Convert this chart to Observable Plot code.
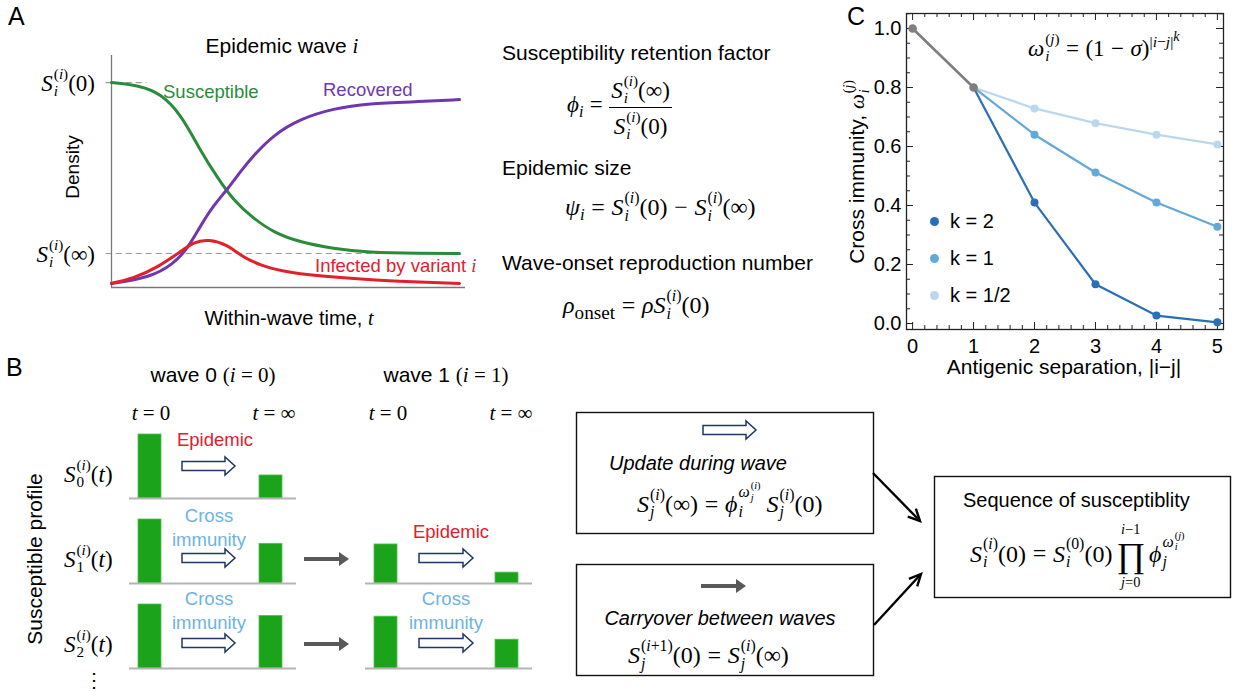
<!DOCTYPE html>
<html><head><meta charset="utf-8">
<script src="https://cdn.jsdelivr.net/npm/d3@7"></script>
<script src="https://cdn.jsdelivr.net/npm/@observablehq/plot@0.6"></script>
<style>
body{margin:0;background:#fff;}
#root{position:relative;width:1244px;height:692px;overflow:hidden;font-family:"Liberation Sans",Arial,sans-serif;color:#000;background:#fff;}
.abs{position:absolute;white-space:nowrap;line-height:1;}
.m{font-family:"Liberation Serif","DejaVu Serif",serif;}
.ss{display:inline-block;vertical-align:-0.36em;font-size:0.66em;line-height:1.12;text-align:left;margin-left:1px;}
.ss>span{display:block;}
.frac{display:inline-block;vertical-align:middle;text-align:center;}
.frac>span{display:block;line-height:1.25;}
.frac>.num{border-bottom:1.4px solid #000;padding:0 2px 1px;}
.prod{display:inline-block;vertical-align:middle;text-align:center;line-height:1;margin:0 4px;}
.prod>span{display:block;}
.prod .lim{font-size:0.6em;line-height:1.15;}
.prod .big{font-size:1.45em;line-height:1.05;}
.sub2{font-size:0.7em;vertical-align:-0.3em;}
.op{margin:0 0.28em;}
.pl{position:absolute;}
</style>
</head><body><div id="root"></div>
<script>
// ---------- Data: panel A ----------
const timeS = [0, 0.82, 1.38, 1.95, 2.51, 2.99, 3.45, 4.01, 4.58, 5.34, 6.27, 7.23, 8.73, 9.83];
const susceptible = [1.0, 0.985, 0.946, 0.849, 0.668, 0.537, 0.424, 0.337, 0.268, 0.22, 0.19, 0.171, 0.166, 0.166];
const timeR = [0, 1.10, 1.75, 2.15, 2.51, 2.88, 3.28, 3.64, 4.01, 4.58, 5.34, 6.27, 7.23, 8.73, 9.83];
const recovered = [0.02, 0.049, 0.115, 0.19, 0.30, 0.40, 0.48, 0.565, 0.644, 0.745, 0.824, 0.873, 0.898, 0.907, 0.917];
const timeI = [0, 0.62, 1.30, 1.95, 2.32, 2.74, 3.28, 3.64, 4.21, 4.97, 6.27, 8.73, 9.83];
const infected = [0.02, 0.044, 0.098, 0.175, 0.222, 0.236, 0.208, 0.156, 0.107, 0.073, 0.049, 0.024, 0.02];
const S0 = 1.0, Sinf = 0.166;
const refStart = -0.15;

// ---------- Data: panel B (bar heights, relative) ----------
const waves = ["wave 0", "wave 1"];
const profileRows = ["S0", "S1", "S2"];
const timePoints = ["t0", "tinf"];
const wave0Start = [1.0, 1.0, 1.0];
const wave0End = [0.36, 0.62, 0.82];
const wave1Start = [null, 0.61, 0.81];
const wave1End = [null, 0.17, 0.45];

// ---------- Data: panel C ----------
const separation = [0, 1, 2, 3, 4, 5];
const kLabels = ["k = 2", "k = 1", "k = 1/2"];
const k2 = [1.0, 0.80, 0.41, 0.133, 0.027, 0.004];
const k1 = [1.0, 0.80, 0.64, 0.512, 0.41, 0.328];
const kHalf = [1.0, 0.80, 0.729, 0.679, 0.64, 0.607];
const kColors = ["#2a6fb5", "#64a8d9", "#bcd7ec"];
const yMajor = [0, 0.2, 0.4, 0.6, 0.8, 1.0];

const root = document.getElementById("root");
const font = "Liberation Sans, Arial, sans-serif";

function addPlot(svg, left, top) {
  svg.classList.add("pl");
  svg.style.left = left + "px"; svg.style.top = top + "px";
  svg.style.background = "transparent"; svg.style.overflow = "visible";
  root.appendChild(svg);
}
function place(html, x, y, o = {}) {
  const d = document.createElement("div");
  d.className = "abs " + (o.cls || "");
  d.innerHTML = html;
  d.style.left = x + "px"; d.style.top = y + "px";
  if (o.size) d.style.fontSize = o.size + "px";
  if (o.color) d.style.color = o.color;
  if (o.lh) { d.style.lineHeight = o.lh + "px"; d.style.whiteSpace = "normal"; d.style.textAlign = "center"; }
  const tx = o.anchor === "middle" ? "-50%" : o.anchor === "end" ? "-100%" : "0";
  d.style.transform = `translate(${tx},-50%)` + (o.rotate ? ` rotate(${o.rotate}deg)` : "");
  root.appendChild(d);
  return d;
}
// math helpers
const it = s => `<i>${s}</i>`;
const ss = (sup, sub) => `<span class="ss"><span>${sup}</span><span>${sub}</span></span>`;
const S = (sub, sup, arg) => `${it("S")}${ss(sup, sub)}(${arg})`;
const pI = `(${it("i")})`;
const iI = it("i"), iJ = it("j");
const EQ = `<span class="op">=</span>`, MINUS = `<span class="op">−</span>`;

// ---------- Panel A ----------
const rowsS = timeS.map((t, i) => ({t, v: susceptible[i]}));
const rowsR = timeR.map((t, i) => ({t, v: recovered[i]}));
const rowsI = timeI.map((t, i) => ({t, v: infected[i]}));
const green = "#2a8b3a", purple = "#7036b2", red = "#e1202c";
addPlot(Plot.plot({
  width: 480, height: 300, marginLeft: 111, marginRight: 15, marginTop: 55, marginBottom: 13,
  x: {domain: [0, 10], axis: null}, y: {domain: [0, 1.132], axis: null},
  marks: [
    Plot.ruleY([S0], {x1: refStart, x2: 1.0, stroke: "#999", strokeDasharray: "6,4", strokeWidth: 1.2}),
    Plot.ruleY([Sinf], {x1: refStart, x2: timeS[timeS.length - 1], stroke: "#999", strokeDasharray: "6,4", strokeWidth: 1.2}),
    Plot.ruleX([0], {stroke: "#777", strokeWidth: 1.3}),
    Plot.ruleY([0], {stroke: "#777", strokeWidth: 1.3}),
    Plot.line(rowsS, {x: "t", y: "v", stroke: green, strokeWidth: 3, curve: "basis"}),
    Plot.line(rowsR, {x: "t", y: "v", stroke: purple, strokeWidth: 3, curve: "basis"}),
    Plot.line(rowsI, {x: "t", y: "v", stroke: red, strokeWidth: 3, curve: "basis"})
  ]
}), 0, 0);

place("A", 8, 16, {size: 25});
place(`Epidemic wave <span class="m">${iI}</span>`, 282, 46, {size: 21, anchor: "middle"});
place(S(iI, pI, "0"), 95, 82, {size: 23, anchor: "end", cls: "m"});
place(S(iI, pI, "∞"), 95, 253, {size: 23, anchor: "end", cls: "m"});
place("Density", 72, 167, {size: 19, anchor: "middle", rotate: -90});
place(`Within-wave time, <span class="m">${it("t")}</span>`, 289, 318, {size: 20, anchor: "middle"});
place("Susceptible", 163, 92, {size: 18.5, color: green});
place("Recovered", 323, 90, {size: 18.5, color: purple});
place(`Infected by variant <span class="m">${iI}</span>`, 315, 266, {size: 18.5, color: red});

// ---------- Middle definitions ----------
place("Susceptibility retention factor", 502, 52, {size: 21});
place(`${it("ϕ")}<span class="sub2">${iI}</span>${EQ}<span class="frac"><span class="num">${S(iI, pI, "∞")}</span><span>${S(iI, pI, "0")}</span></span>`, 567, 107, {size: 23, cls: "m"});
place("Epidemic size", 502, 167, {size: 21});
place(`${it("ψ")}<span class="sub2">${iI}</span>${EQ}${S(iI, pI, "0")}${MINUS}${S(iI, pI, "∞")}`, 565, 207, {size: 24, cls: "m"});
place("Wave-onset reproduction number", 502, 262, {size: 21});
place(`${it("ρ")}<span class="sub2" style="font-size:0.8em">onset</span>${EQ}${it("ρ")}${S(iI, pI, "0")}`, 563, 305, {size: 24, cls: "m"});

// ---------- Panel B ----------
const barData = [];
[[wave0Start, "wave 0", "t0"], [wave0End, "wave 0", "tinf"], [wave1Start, "wave 1", "t0"], [wave1End, "wave 1", "tinf"]]
  .forEach(([arr, wave, t]) => arr.forEach((v, r) => { if (v != null) barData.push({wave, row: profileRows[r], t, v}); }));
const cells = d3.groups(barData, d => d.wave, d => d.row).flatMap(([wave, g]) => g.map(([row]) => ({wave, row})));
addPlot(Plot.plot({
  width: 544, height: 263, marginLeft: 129, marginRight: 11, marginTop: 13, marginBottom: 13,
  facet: {marginTop: 0, marginBottom: 0, marginLeft: 0, marginRight: 0},
  fx: {domain: waves, axis: null, paddingInner: 0.291, paddingOuter: 0},
  fy: {domain: profileRows, axis: null, paddingInner: 0.244, paddingOuter: 0},
  x: {domain: timePoints, axis: null, paddingInner: 0.81, paddingOuter: 0.094, align: 0.4},
  y: {domain: [0, 1], axis: null},
  marks: [
    Plot.barY(barData, {x: "t", y: "v", fx: "wave", fy: "row", fill: "#1ca31c", stroke: "#52bf52", strokeWidth: 0.8}),
    Plot.ruleY(cells, {y: 0, fx: "wave", fy: "row", stroke: "#b4b4b4", strokeWidth: 2})
  ]
}), 0, 420);

place("B", 6, 367, {size: 25});
place(`wave 0 <span class="m">(${iI} = 0)</span>`, 213, 375, {size: 21, anchor: "middle"});
place(`wave 1 <span class="m">(${iI} = 1)</span>`, 446, 375, {size: 21, anchor: "middle"});
[[151, "0"], [274, "∞"], [388, "0"], [511, "∞"]].forEach(([x, v]) => place(`${it("t")} = ${v}`, x, 413, {size: 21, anchor: "middle", cls: "m"}));
[[473, "0"], [558, "1"], [643, "2"]].forEach(([y, j]) => place(`${it("S")}${ss(pI, j)}(${it("t")})`, 64, y, {size: 23, cls: "m"}));
place("Susceptible profile", 34, 559, {size: 21, anchor: "middle", rotate: -90});
place("⋮", 94, 680, {size: 20, anchor: "middle"});
const lblue = "#6db3e3";
place("Epidemic", 215, 440, {size: 18.5, anchor: "middle", color: red});
place("Epidemic", 451, 532, {size: 18.5, anchor: "middle", color: red});
place("Cross<br>immunity", 209, 527, {size: 18.5, anchor: "middle", color: lblue, lh: 23.5});
place("Cross<br>immunity", 209, 610, {size: 18.5, anchor: "middle", color: lblue, lh: 23.5});
place("Cross<br>immunity", 446, 610, {size: 18.5, anchor: "middle", color: lblue, lh: 23.5});

// ---------- Boxes ----------
place(`<i>Update during wave</i>`, 609, 463, {size: 20});
place(`${S(iJ, pI, "∞")}${EQ}${it("ϕ")}${ss(`${it("ω")}${ss(pI, iJ)}`, iI)} ${S(iJ, pI, "0")}`, 637, 501, {size: 24, cls: "m"});
place(`<i>Carryover between waves</i>`, 720, 618, {size: 20, anchor: "middle"});
place(`${S(iJ, `(${iI}+1)`, "0")}${EQ}${S(iJ, pI, "∞")}`, 628, 655, {size: 24, cls: "m"});
place("Sequence of susceptiblity", 963, 500, {size: 20});
place(`${S(iI, pI, "0")}${EQ}${S(iI, "(0)", "0")}<span class="prod"><span class="lim">${iI}−1</span><span class="big">∏</span><span class="lim">${iJ}=0</span></span>${it("ϕ")}${ss(`${it("ω")}${ss(`(${iJ})`, iI)}`, iJ)}`, 970, 556, {size: 24, cls: "m"});

// ---------- Panel C ----------
const cRows = [];
[k2, k1, kHalf].forEach((arr, s) => arr.forEach((v, i) => cRows.push({k: kLabels[s], x: separation[i], y: v})));
const decay = cRows.filter(d => d.x >= 1);
const shared = cRows.filter(d => d.k === kLabels[0] && d.x <= 1);
const xMinor = d3.range(0, 5.01, 0.2).map(v => +v.toFixed(2)).filter(v => !separation.includes(v));
const yMinor = d3.range(0, 1.051, 0.05).map(v => +v.toFixed(2)).filter(v => !yMajor.includes(v));
const fw = 317, fh = 316, tc = "#222";
addPlot(Plot.plot({
  width: 414, height: 380, marginLeft: 76, marginRight: 21, marginTop: 13, marginBottom: 51,
  style: {fontFamily: font, fontSize: "20px", color: "#000", background: "transparent"},
  x: {domain: [-0.1, 5.1], ticks: separation, tickSize: 0, tickPadding: 9, tickFormat: d3.format("d"), label: null},
  y: {domain: [-0.0203, 1.0508], ticks: yMajor, tickSize: 0, tickPadding: 5, tickFormat: d3.format(".1f"), label: null},
  color: {domain: kLabels, range: kColors},
  marks: [
    Plot.tickX(separation, {x: d => d, insetTop: fh - 7, stroke: tc}),
    Plot.tickX(separation, {x: d => d, insetBottom: fh - 7, stroke: tc}),
    Plot.tickX(xMinor, {x: d => d, insetTop: fh - 4, stroke: tc}),
    Plot.tickX(xMinor, {x: d => d, insetBottom: fh - 4, stroke: tc}),
    Plot.tickY(yMajor, {y: d => d, insetRight: fw - 7, stroke: tc}),
    Plot.tickY(yMajor, {y: d => d, insetLeft: fw - 7, stroke: tc}),
    Plot.tickY(yMinor, {y: d => d, insetRight: fw - 4, stroke: tc}),
    Plot.tickY(yMinor, {y: d => d, insetLeft: fw - 4, stroke: tc}),
    Plot.frame({stroke: tc, strokeWidth: 1.3}),
    Plot.line([...decay].reverse(), {x: "x", y: "y", z: "k", stroke: "k", strokeWidth: 2.2}),
    Plot.dot(decay.filter(d => d.x >= 2), {x: "x", y: "y", fill: "k", r: 4}),
    Plot.line(shared, {x: "x", y: "y", stroke: "#7f7f7f", strokeWidth: 2.6}),
    Plot.dot(shared, {x: "x", y: "y", fill: "#7f7f7f", r: 4.3})
  ]
}), 830, 0);

place("C", 847, 16, {size: 25});
place(`${it("ω")}${ss(`(${iJ})`, iI)}${EQ}(1${MINUS}${it("σ")})<sup style="font-size:0.68em">|${iI}−${iJ}|<sup style="font-size:0.9em">${it("k")}</sup></sup>`, 1028, 47, {size: 23, cls: "m"});
place(`Cross immunity, <span class="m">${it("ω")}${ss(`(${iJ})`, iI)}</span>`, 857, 172, {size: 21, anchor: "middle", rotate: -90});
place(`Antigenic separation, |i−j|`, 1064, 366, {size: 21, anchor: "middle"});
kLabels.forEach((k, i) => {
  const y = [221, 258, 295][i];
  place(`<span style="display:inline-block;width:9px;height:9px;border-radius:50%;background:${kColors[i]};vertical-align:middle;margin-right:11px;position:relative;top:-1px"></span>${k}`, 930, y, {size: 20});
});

// ---------- Diagram arrows and boxes ----------
const NS = "http://www.w3.org/2000/svg";
const ov = document.createElementNS(NS, "svg");
ov.setAttribute("width", 1244); ov.setAttribute("height", 692);
ov.style.position = "absolute"; ov.style.left = "0"; ov.style.top = "0"; ov.style.pointerEvents = "none";
let g = "";
const hollow = (x0, x1, y) => `<path d="M${x0},${y-4.5}L${x1-10},${y-4.5}L${x1-10},${y-9}L${x1},${y}L${x1-10},${y+9}L${x1-10},${y+4.5}L${x0},${y+4.5}Z" fill="#fff" stroke="#203864" stroke-width="1.5" stroke-linejoin="miter"/>`;
const solid = (x0, x1, y) => `<line x1="${x0}" y1="${y}" x2="${x1-8}" y2="${y}" stroke="#595959" stroke-width="4"/><path d="M${x1-10},${y-7}L${x1},${y}L${x1-10},${y+7}Z" fill="#595959"/>`;
const black = (x0, y0, x1, y1) => {
  const a = Math.atan2(y1 - y0, x1 - x0), L = 13, s = 0.45;
  const p1 = [x1 - L * Math.cos(a - s), y1 - L * Math.sin(a - s)], p2 = [x1 - L * Math.cos(a + s), y1 - L * Math.sin(a + s)];
  return `<line x1="${x0}" y1="${y0}" x2="${x1}" y2="${y1}" stroke="#000" stroke-width="2.4"/><path d="M${p1}L${x1},${y1}L${p2}" fill="none" stroke="#000" stroke-width="2.4"/>`;
};
[[182, 235, 466], [182, 235, 558], [182, 235, 643], [419, 473, 558], [419, 473, 643], [703, 756, 430]].forEach(a => g += hollow(...a));
[[304, 349, 559], [304, 349, 644], [701, 746, 586]].forEach(a => g += solid(...a));
g += `<rect x="576.5" y="412.5" width="297" height="121" fill="none" stroke="#111" stroke-width="1.4"/>`;
g += `<rect x="576.5" y="564.5" width="297" height="111" fill="none" stroke="#111" stroke-width="1.4"/>`;
g += `<rect x="934.5" y="476.5" width="296" height="121" fill="none" stroke="#111" stroke-width="1.4"/>`;
g += black(873, 473, 920, 521);
g += black(874, 625, 921, 574);
ov.innerHTML = g;
root.appendChild(ov);
</script>
</body></html>
